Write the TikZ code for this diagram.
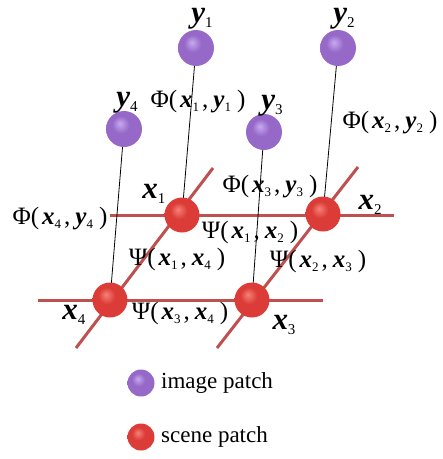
\documentclass[tikz,border=0pt]{standalone}
\usepackage{fontspec}
\setmainfont{Liberation Serif}
\definecolor{gridred}{RGB}{190,80,80}
\definecolor{pl}{RGB}{200,170,240}
\definecolor{pm}{RGB}{150,105,200}
\definecolor{pd}{RGB}{110,70,160}
\definecolor{rl}{RGB}{245,130,120}
\definecolor{rm}{RGB}{220,60,55}
\definecolor{rd}{RGB}{170,35,35}
\pgfdeclareradialshading{purpleball}{\pgfpoint{-6bp}{8bp}}{color(0bp)=(pl); color(12bp)=(pm); color(30bp)=(pm); color(42bp)=(pd); color(50bp)=(pd)}
\pgfdeclareradialshading{redball}{\pgfpoint{-6bp}{8bp}}{color(0bp)=(rl); color(12bp)=(rm); color(30bp)=(rm); color(42bp)=(rd); color(50bp)=(rd)}
\newcommand{\bv}[3]{{\bfseries\itshape #1}\raisebox{-0.35ex}{\fontsize{#3}{#3}\selectfont #2}}
\newcommand{\pair}[5]{#1(\kern3pt\bv{#2}{#3}{13}\kern3pt,\kern5pt\bv{#4}{#5}{13}\kern6pt)}
\tikzset{
  ynode/.style={circle, minimum size=36pt, inner sep=0pt, shading=purpleball},
  xnode/.style={circle, minimum size=35pt, inner sep=0pt, shading=redball},
  gridline/.style={gridred, line width=3pt},
  link/.style={black, line width=0.8pt},
  lbl/.style={font=\fontsize{25}{25}\selectfont, inner sep=0pt},
  nlbl/.style={font=\fontsize{31}{31}\selectfont, inner sep=0pt},
  leg/.style={font=\fontsize{23}{23}\selectfont, inner sep=0pt, anchor=west}
}
\begin{document}
\begin{tikzpicture}[x=1pt,y=-1pt]
\useasboundingbox (0,0) rectangle (443,459);
% grid lines
\coordinate (h1a) at (110,215); \coordinate (h1b) at (394,215);
\coordinate (h2a) at (38,300); \coordinate (h2b) at (323,300);
\coordinate (d1a) at (76,348); \coordinate (d1b) at (213,168);
\coordinate (d2a) at (217,348); \coordinate (d2b) at (358,167);
\draw[gridline] (h1a) -- (h1b);
\draw[gridline] (h2a) -- (h2b);
\draw[gridline] (d1a) -- (d1b);
\draw[gridline] (d2a) -- (d2b);
% nodes
\node[ynode] (y1) at (196,48) {};
\node[ynode] (y2) at (338,48) {};
\node[ynode] (y4) at (124,129) {};
\node[ynode] (y3) at (264,132) {};
\coordinate (c1) at (182,215);
\coordinate (c2) at (323,214);
\coordinate (c4) at (110,300);
\coordinate (c3) at (252,300);
\draw[link] (y1) -- (c1);
\draw[link] (y2) -- (c2);
\draw[link] (y4) -- (c4);
\draw[link] (y3) -- (c3);
\node[xnode] (x1) at (c1) {};
\node[xnode] (x2) at (c2) {};
\node[xnode] (x4) at (c4) {};
\node[xnode] (x3) at (c3) {};
% labels
\node[nlbl] at (202,19) {\bv{y}{1}{15}};
\node[nlbl] at (344,19) {\bv{y}{2}{15}};
\node[nlbl] at (127,103) {\bv{y}{4}{15}};
\node[nlbl] at (272,106) {\bv{y}{3}{15}};
\node[nlbl] at (154,194) {\bv{x}{1}{15}};
\node[nlbl] at (370,205) {\bv{x}{2}{15}};
\node[nlbl] at (74,315) {\bv{x}{4}{15}};
\node[nlbl] at (284,325) {\bv{x}{3}{15}};
\node[lbl] at (198,102) {\pair{Φ}{x}{1}{y}{1}};
\node[lbl] at (390,123) {\pair{Φ}{x}{2}{y}{2}};
\node[lbl] at (270,187) {\pair{Φ}{x}{3}{y}{3}};
\node[lbl] at (60,219) {\pair{Φ}{x}{4}{y}{4}};
\node[lbl] at (250,232) {\pair{Ψ}{x}{1}{x}{2}};
\node[lbl] at (177,259) {\pair{Ψ}{x}{1}{x}{4}};
\node[lbl] at (318,261) {\pair{Ψ}{x}{2}{x}{3}};
\node[lbl] at (180,313) {\pair{Ψ}{x}{3}{x}{4}};
% legend
\node[ynode, minimum size=27pt] (ly) at (141,383) {};
\node[xnode, minimum size=27pt] (lx) at (141,437) {};
\node[leg] at (161,383) {image patch};
\node[leg] at (161,437) {scene patch};
\end{tikzpicture}
\end{document}
